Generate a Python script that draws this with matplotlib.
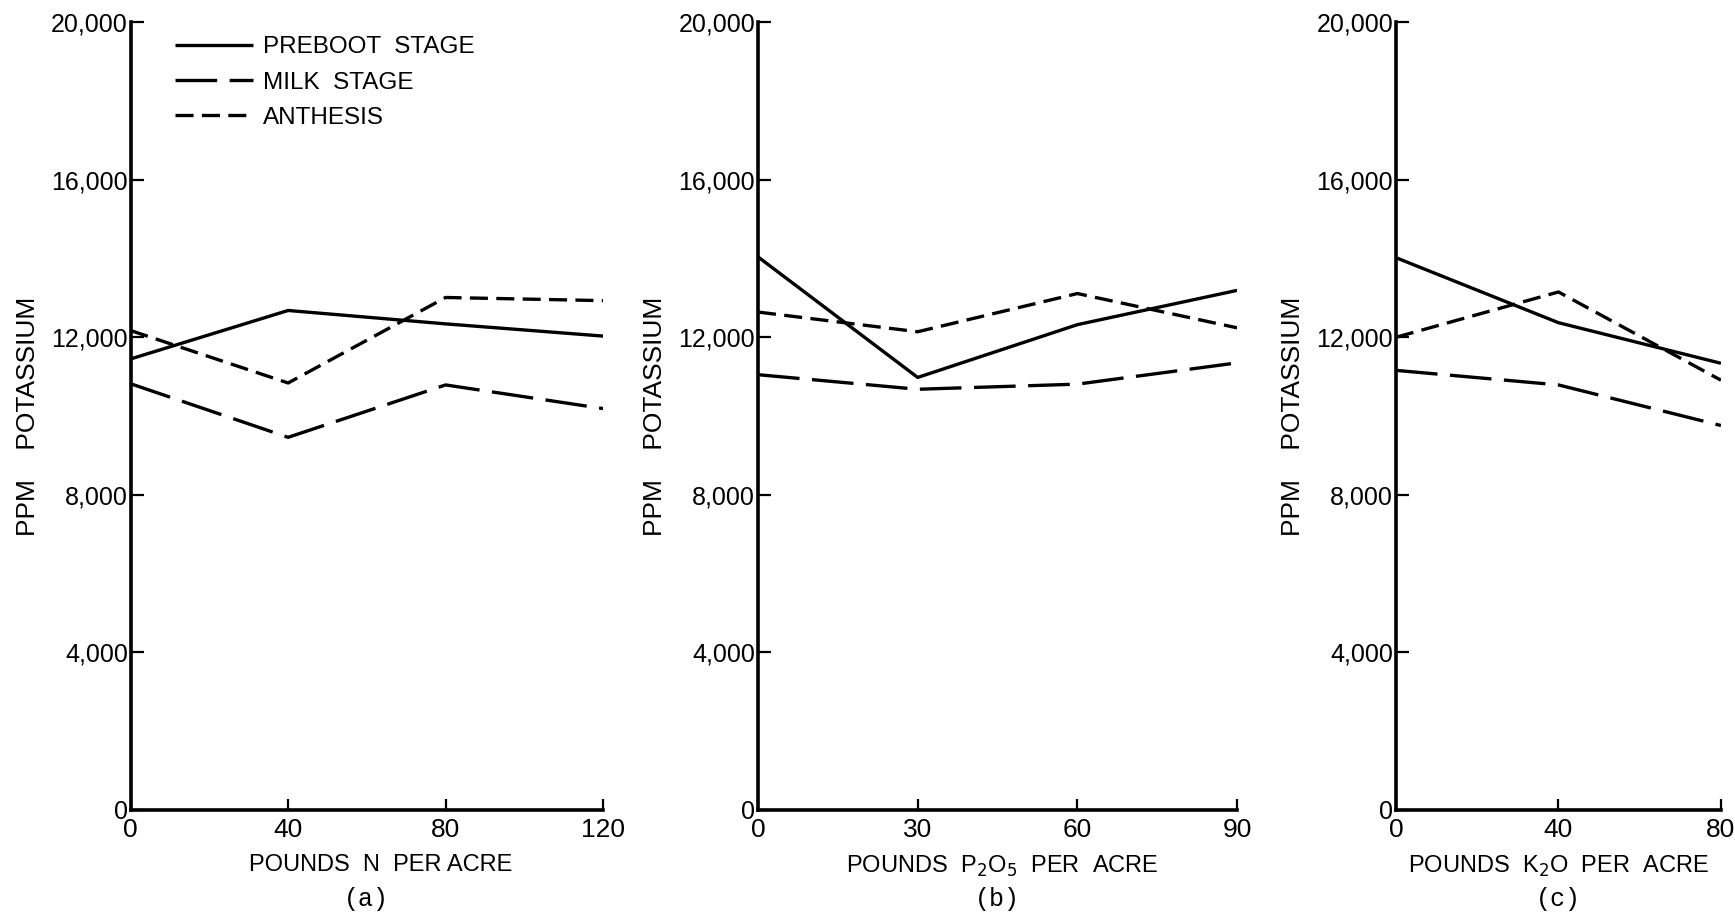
import matplotlib.pyplot as plt
from matplotlib.ticker import FuncFormatter

plt.rcParams['font.family'] = ['Liberation Sans', 'DejaVu Sans']
plt.rcParams['lines.scale_dashes'] = False

# nitrogen rates (a)
n_rate = [0, 40, 80, 120]
n_preboot = [11450, 12680, 12340, 12030]
n_milk = [10820, 9460, 10790, 10190]
n_anthesis = [12170, 10840, 13010, 12930]

# phosphate rates (b)
p_rate = [0, 30, 60, 90]
p_preboot = [14040, 10980, 12320, 13190]
p_milk = [11050, 10680, 10810, 11350]
p_anthesis = [12640, 12140, 13110, 12240]

# potash rates (c)
k_rate = [0, 40, 80]
k_preboot = [14020, 12370, 11340]
k_milk = [11160, 10790, 9760]
k_anthesis = [12000, 13150, 10910]

stage_names = ['PREBOOT  STAGE', 'MILK  STAGE', 'ANTHESIS']
y_ticks = [0, 4000, 8000, 12000, 16000, 20000]

panels = [
    (n_rate, [n_preboot, n_milk, n_anthesis], 'POUNDS  N  PER ACRE', '(a)', 0.53),
    (p_rate, [p_preboot, p_milk, p_anthesis], 'POUNDS  P$_2$O$_5$  PER  ACRE', '(b)', 0.51),
    (k_rate, [k_preboot, k_milk, k_anthesis], 'POUNDS  K$_2$O  PER  ACRE', '(c)', 0.5),
]
positions = [
    [0.0753, 0.1138, 0.2723, 0.862],
    [0.4369, 0.1138, 0.2761, 0.862],
    [0.8046, 0.1138, 0.1873, 0.862],
]
styles = ['-', (0, (30, 9)), (0, (13, 6))]

fig = plt.figure(figsize=(17.35, 9.14), dpi=100)

for i, (pos, (x, series, xlabel, tag, xlab_pos)) in enumerate(zip(positions, panels)):
    ax = fig.add_axes(pos)
    lines = []
    for vals, ls in zip(series, styles):
        ln, = ax.plot(x, vals, color='black', lw=2.4, linestyle=ls,
                      solid_capstyle='butt', dash_capstyle='butt')
        lines.append(ln)

    ax.set_xlim(x[0], x[-1])
    ax.set_ylim(0, 20000)
    ax.set_xticks(x)
    ax.set_yticks(y_ticks)
    ax.yaxis.set_major_formatter(FuncFormatter(lambda v, p: f'{int(v):,}'))
    ax.spines['top'].set_visible(False)
    ax.spines['right'].set_visible(False)
    ax.spines['left'].set_linewidth(2.6)
    ax.spines['bottom'].set_linewidth(2.6)
    ax.tick_params(axis='y', direction='in', length=9, width=1.6,
                   labelsize=18, pad=2)
    ax.tick_params(axis='x', direction='in', length=8, width=1.6,
                   labelsize=19, pad=6)
    ax.set_ylabel('PPM    POTASSIUM', fontsize=19, labelpad=8)
    ax.set_xlabel(xlabel, fontsize=17)
    ax.xaxis.set_label_coords(xlab_pos, -0.056)
    ax.text(0.5, -0.113, tag, transform=ax.transAxes, ha='center', va='center',
            fontsize=18, family='Liberation Mono')

    if i == 0:
        ax.legend(lines, stage_names, loc='upper left',
                  bbox_to_anchor=(0.047, 1.01), frameon=False,
                  fontsize=17.5, handlelength=3.2, handletextpad=0.45,
                  labelspacing=0.55)

fig.savefig('out.png', dpi=100)
